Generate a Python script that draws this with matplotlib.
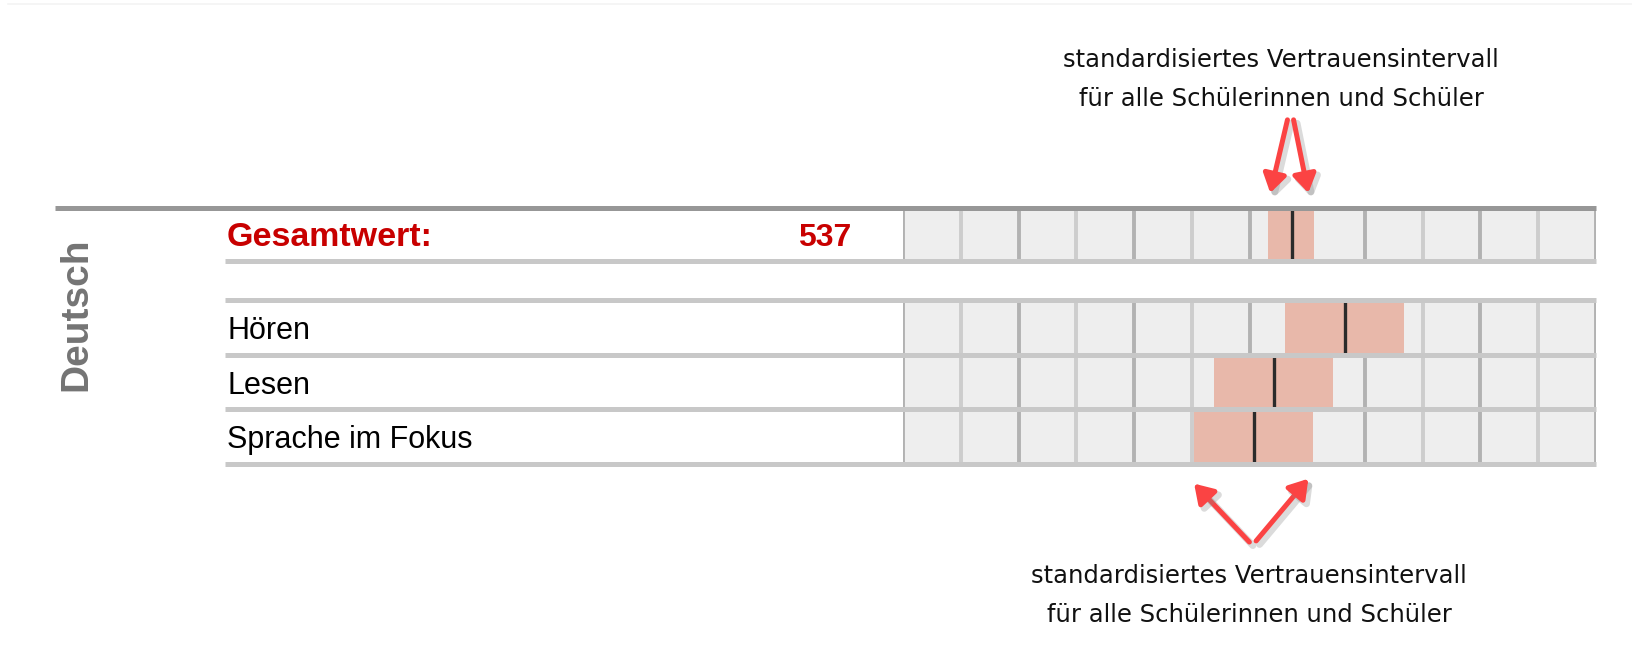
import numpy as np
import matplotlib.pyplot as plt
import matplotlib.transforms as mtransforms
import matplotlib.patheffects as pe

# data
subject = "Deutsch"
total_label = "Gesamtwert:"
total_score = 537
total_lo, total_hi = 516, 556

domains = ["Hören", "Lesen", "Sprache im Fokus"]
domain_scores = [583, 521, 504]
domain_lo = [531, 469, 452]
domain_hi = [634, 572, 555]

scale_ticks = np.arange(200, 801, 50)
ci_note = "standardisiertes Vertrauensintervall\nfür alle Schülerinnen und Schüler"

# row layout (in row units, top = 0)
total_row = (0.0, 0.97)
domain_rows = [(1.69, 2.69), (2.69, 3.69), (3.69, 4.69)]

cell_fill = "#eeeeee"
grid_dark = "#b2b2b2"
grid_light = "#cdcdcd"
sep_color = "#c8c8c8"
ci_color = "#e8b8aa"
arrow_red = "#fb4343"

fig = plt.figure(figsize=(16.32, 6.64), dpi=100)
fig.add_artist(plt.Line2D([0.005, 1.0], [0.994, 0.994], color="#f4f4f4", linewidth=1.2))
ax = fig.add_axes([903.4 / 1632, 1 - 464 / 664, 692.2 / 1632, 256 / 664])
ax.set_xlim(scale_ticks[0], scale_ticks[-1])
ax.set_ylim(4.69, 0)
ax.axis("off")
blend = mtransforms.blended_transform_factory(ax.transAxes, ax.transData)


def draw_row(top, bottom, score, lo, hi):
    mid = (top + bottom) / 2
    h = bottom - top
    ax.barh(mid, scale_ticks[-1] - scale_ticks[0], left=scale_ticks[0], height=h,
            color=cell_fill, zorder=1)
    cols = [grid_dark if i % 2 == 0 else grid_light for i in range(len(scale_ticks))]
    ax.vlines(scale_ticks, top, bottom, colors=cols, linewidth=2.8, zorder=2)
    ax.barh(mid, hi - lo, left=lo, height=h, color=ci_color, zorder=3)
    ax.vlines(score, top, bottom, colors="#2b2b2b", linewidth=2.4, zorder=4)


draw_row(*total_row, total_score, total_lo, total_hi)
for (top, bottom), s, lo, hi in zip(domain_rows, domain_scores, domain_lo, domain_hi):
    draw_row(top, bottom, s, lo, hi)

# horizontal rules
ax.plot([-1.2256, 1.0], [total_row[0]] * 2, transform=blend, color="#979797",
        linewidth=3.6, solid_capstyle="butt", clip_on=False, zorder=5)
seps = [total_row[1]] + [r[0] for r in domain_rows] + [domain_rows[-1][1]]
for y in seps:
    ax.plot([-0.98, 1.0], [y, y], transform=blend, color=sep_color,
            linewidth=3.6, solid_capstyle="butt", clip_on=False, zorder=5)

# labels
lab_font = "Liberation Sans"
ax.text(-0.977, sum(total_row) / 2, total_label, transform=blend, ha="left",
        va="center_baseline", fontsize=24.5, fontweight="bold", color="#c80000",
        family=lab_font)
ax.text(-0.0757, sum(total_row) / 2, str(total_score), transform=blend, ha="right",
        va="center_baseline", fontsize=23, fontweight="bold", color="#c80000",
        family=lab_font)
for (top, bottom), name in zip(domain_rows, domains):
    ax.text(-0.977, (top + bottom) / 2, name, transform=blend, ha="left",
            va="center_baseline", fontsize=22, color="black", family=lab_font)
ax.text(-1.195, 1.955, subject, transform=blend, ha="center", va="center",
        rotation=90, fontsize=28, fontweight="bold", color="#747474", family=lab_font)

# annotations
shadow = [pe.SimpleLineShadow(offset=(2.5, -2.5), shadow_color="#888888", alpha=0.3,
                              linewidth=5),
          pe.Normal()]
arrow_kw = dict(arrowstyle="-|>,head_length=0.55,head_width=0.35", color=arrow_red,
                lw=3.6, shrinkA=0, shrinkB=0, mutation_scale=20)
note_kw = dict(ha="center", va="center", fontsize=17.5, family="DejaVu Sans",
               color="#111111", linespacing=1.8, clip_on=False)

ax.text(527.6, -2.35, ci_note, **note_kw)
for start, tip in [((532.9, -1.615), (total_lo + 2, -0.275)),
                   ((538.2, -1.615), (total_hi - 5, -0.275))]:
    a = ax.annotate("", xy=tip, xytext=start, arrowprops=arrow_kw, annotation_clip=False)
    a.arrow_patch.set_path_effects(shadow)

ax.text(499.7, 7.1, ci_note, **note_kw)
s_lo, s_hi = domain_lo[-1], domain_hi[-1]
for start, tip in [((499.9, 6.12), (s_lo, 5.05)),
                   ((505.7, 6.10), (s_hi - 4, 4.96))]:
    a = ax.annotate("", xy=tip, xytext=start, arrowprops=arrow_kw, annotation_clip=False)
    a.arrow_patch.set_path_effects(shadow)

fig.savefig("out.png", dpi=100)
